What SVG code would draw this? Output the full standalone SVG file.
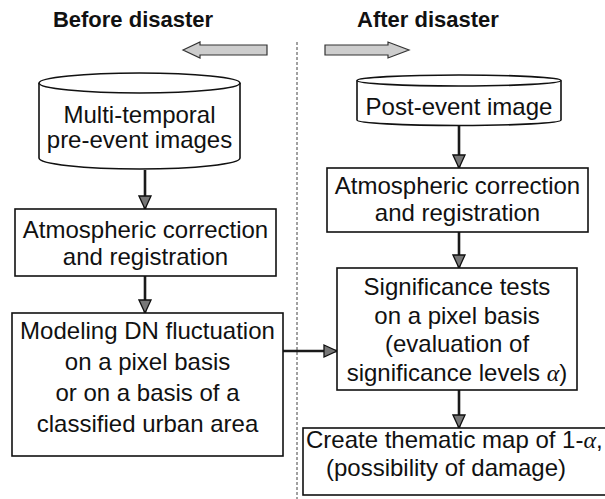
<svg xmlns="http://www.w3.org/2000/svg" width="605" height="499" viewBox="0 0 605 499">
  <style>
    .title { font-family: "Liberation Sans", Arial, sans-serif; font-size: 22px; font-weight: bold; fill: #111; text-anchor: middle; }
    .lbl { font-family: "Liberation Sans", Arial, sans-serif; font-size: 24px; fill: #111; text-anchor: middle; }
    .lbl-start { font-family: "Liberation Sans", Arial, sans-serif; font-size: 24px; fill: #111; }
    .greek { font-family: "Liberation Serif", "Times New Roman", serif; font-style: italic; }
    .box { fill: #fff; stroke: #111; stroke-width: 1.6; }
    .conn { fill: none; stroke: #1a1a1a; stroke-width: 2.6; }
    .block { fill: #cdcdcd; stroke: #333; stroke-width: 1.2; }
    .divider { stroke: #444; stroke-width: 1; stroke-dasharray: 3 2; fill: none; }
  </style>
  <defs>
    <marker id="head" markerUnits="userSpaceOnUse" markerWidth="15" markerHeight="15" viewBox="0 0 15 15" refX="14" refY="7.5" orient="auto">
      <path d="M1,1.5 L14,7.5 L1,13.5 Z" fill="#777" stroke="#111" stroke-width="1.3"/>
    </marker>
  </defs>

  <rect width="605" height="499" fill="#fff"/>

  <!-- column headings -->
  <text class="title" x="133" y="27">Before disaster</text>
  <text class="title" x="428" y="27">After disaster</text>

  <!-- time direction arrows -->
  <polygon class="block" points="183,50 200,42 200,45 267,45 267,55 200,55 200,58"/>
  <polygon class="block" points="325,45 388,45 388,42 409,50 388,58 388,55 325,55"/>

  <!-- before / after divider -->
  <line class="divider" x1="297" y1="42" x2="297" y2="499"/>

  <g id="connectors">
    <line class="conn" x1="145" y1="170" x2="145" y2="209" marker-end="url(#head)"/>
    <line class="conn" x1="145" y1="276" x2="145" y2="313" marker-end="url(#head)"/>
    <line class="conn" x1="459" y1="126" x2="459" y2="168" marker-end="url(#head)"/>
    <line class="conn" x1="459" y1="232" x2="459" y2="268" marker-end="url(#head)"/>
    <line class="conn" x1="283" y1="351" x2="337" y2="351" marker-end="url(#head)"/>
    <line class="conn" x1="459" y1="390" x2="459" y2="428" marker-end="url(#head)"/>
  </g>

  <g id="pre-images">
    <path class="box" d="M39,83 L39,158 A100.5,11 0 0 0 240,158 L240,83"/>
    <ellipse class="box" cx="139.5" cy="83" rx="100.5" ry="10"/>
    <text class="lbl" x="139.5" y="123">Multi-temporal</text>
    <text class="lbl" x="139.5" y="148">pre-event images</text>
  </g>

  <g id="pre-correction">
    <rect class="box" x="15" y="209" width="261" height="67"/>
    <text class="lbl" x="145.5" y="238">Atmospheric correction</text>
    <text class="lbl" x="145.5" y="265">and registration</text>
  </g>

  <g id="modeling">
    <rect class="box" x="12" y="313" width="271" height="143"/>
    <text class="lbl" x="147.5" y="339">Modeling DN fluctuation</text>
    <text class="lbl" x="147.5" y="370">on a pixel basis</text>
    <text class="lbl" x="147.5" y="401">or on a basis of a</text>
    <text class="lbl" x="147.5" y="432">classified urban area</text>
  </g>

  <g id="post-image">
    <path class="box" d="M357,80.5 L357,120 A102,5.5 0 0 0 561,120 L561,80.5"/>
    <ellipse class="box" cx="459" cy="80.5" rx="102" ry="5.5"/>
    <text class="lbl" x="459" y="115">Post-event image</text>
  </g>

  <g id="post-correction">
    <rect class="box" x="327" y="168" width="261" height="64"/>
    <text class="lbl" x="457.5" y="194">Atmospheric correction</text>
    <text class="lbl" x="457.5" y="221">and registration</text>
  </g>

  <g id="significance">
    <rect class="box" x="337" y="268" width="240" height="122"/>
    <text class="lbl" x="457" y="295">Significance tests</text>
    <text class="lbl" x="457" y="323.5">on a pixel basis</text>
    <text class="lbl" x="457" y="352">(evaluation of</text>
    <text class="lbl" x="457" y="380.5">significance levels <tspan class="greek">α</tspan>)</text>
  </g>

  <g id="thematic-map">
    <rect class="box" x="303" y="428" width="310" height="67"/>
    <text class="lbl-start" x="306" y="448">Create thematic map of 1-<tspan class="greek">α</tspan>,</text>
    <text class="lbl" x="446" y="476">(possibility of damage)</text>
  </g>
</svg>
